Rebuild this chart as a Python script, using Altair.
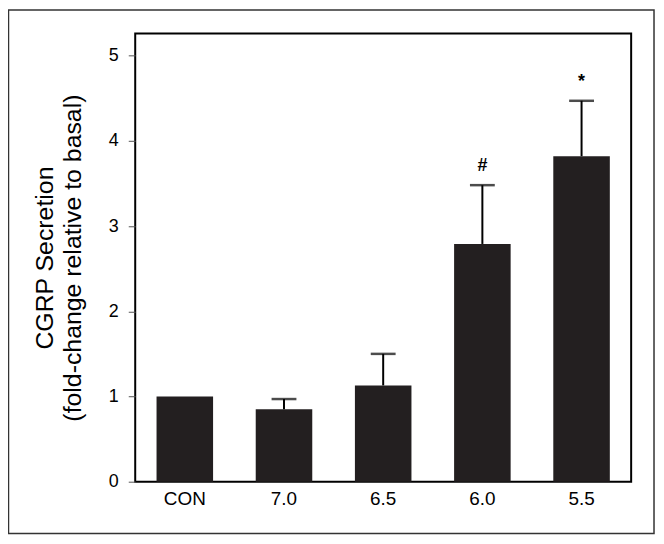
import altair as alt
import pandas as pd

categories = ["CON", "7.0", "6.5", "6.0", "5.5"]
means = [1.0, 0.85, 1.13, 2.79, 3.82]
err_tops = [None, 0.97, 1.50, 3.48, 4.47]
marks = ["", "", "", "#", "*"]

df = pd.DataFrame({"cat": categories, "mean": means, "err": err_tops, "mark": marks})
err_df = df.dropna(subset=["err"])
ann_df = df[df["mark"] != ""]

x_scale = alt.Scale(paddingInner=0.43, paddingOuter=0.215)
y_scale = alt.Scale(domain=[0, 5.26], nice=False, zero=True)

x_axis = alt.Axis(title=None, ticks=False, domain=False, labelAngle=0,
                  labelFontSize=19, labelPadding=8, labelColor="black",
                  labelFont="Liberation Sans")
y_axis = alt.Axis(values=[0, 1, 2, 3, 4, 5], format="d", grid=False, domain=False,
                  tickColor="#555", tickSize=7, tickWidth=1,
                  labelFontSize=18, labelPadding=10, labelColor="black",
                  labelFont="Liberation Sans",
                  title=["CGRP Secretion", "(fold-change relative to basal)"],
                  titleFont="Liberation Sans", titleFontSize=25,
                  titleFontWeight="normal", titleColor="black",
                  titleLineHeight=28, titleBaseline="alphabetic",
                  titleX=-83, titleY=225.5, titleAngle=270)


def xe():
    return alt.X("cat:N", sort=categories, scale=x_scale, axis=x_axis)


def ye(field):
    return alt.Y(field, scale=y_scale, axis=y_axis)


bars = alt.Chart(df).mark_bar(color="#231f20").encode(x=xe(), y=ye("mean:Q"))

rules = alt.Chart(err_df).mark_rule(color="black", strokeWidth=2).encode(
    x=xe(), y=ye("mean:Q"), y2="err:Q",
)

caps = alt.Chart(err_df).mark_tick(color="black", size=25, thickness=2.5).encode(
    x=xe(), y=ye("err:Q"),
)

ann = alt.Chart(ann_df).mark_text(fontSize=18, fontWeight="bold", color="black",
                                  baseline="alphabetic", dy=-14,
                                  font="Liberation Sans").encode(
    x=xe(), y=ye("err:Q"), text="mark:N",
)

frame = alt.Chart(df.head(1)).mark_rect(filled=False, stroke="#333", strokeWidth=1.5).encode(
    x=alt.value(-127.5), x2=alt.value(522), y=alt.value(-23.5), y2=alt.value(503),
)

chart = alt.layer(bars, rules, caps, ann, frame).properties(
    width=499, height=451,
    autosize=alt.AutoSizeParams(type="none"),
    padding={"left": 128, "top": 24, "right": 25, "bottom": 53},
    background="white",
).configure_view(stroke="black", strokeWidth=2)

chart.save("out.html", embed_options={"renderer": "svg", "actions": False})
